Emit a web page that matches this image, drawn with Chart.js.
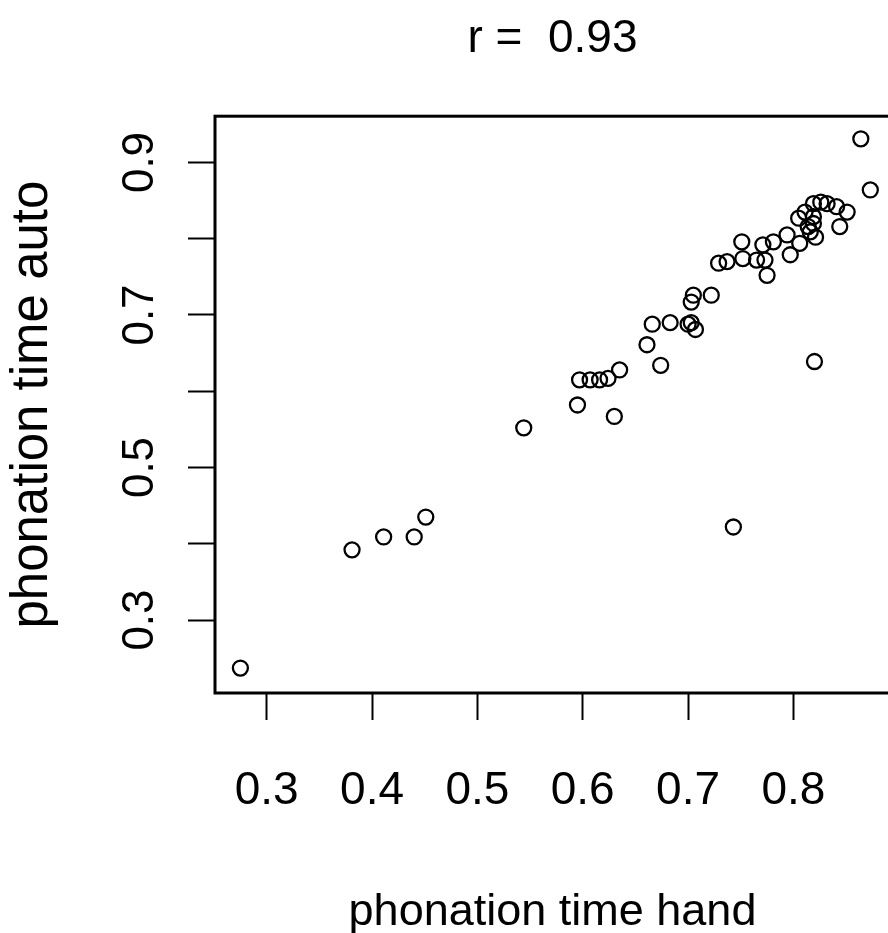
<!DOCTYPE html>
<html>
<head>
<meta charset="utf-8">
<title>phonation time</title>
<script src="https://cdn.jsdelivr.net/npm/chart.js@4.4.1/dist/chart.umd.min.js"></script>
<style>
  html, body { margin: 0; padding: 0; background: #fff; overflow: hidden; }
  #wrap { width: 888px; height: 933px; overflow: hidden; }
  canvas { display: block; }
</style>
</head>
<body>
<div id="wrap"><canvas id="chart" width="1105" height="933"></canvas></div>
<script>
/* ── data ───────────────────────────────────── */
const handTimes = [
  0.275, 0.381, 0.411, 0.440, 0.451, 0.544, 0.595, 0.630, 0.597, 0.607,
  0.616, 0.624, 0.635, 0.661, 0.674, 0.666, 0.683, 0.700, 0.707, 0.703,
  0.703, 0.705, 0.722, 0.743, 0.820, 0.864, 0.873, 0.729, 0.737, 0.751,
  0.752, 0.765, 0.771, 0.773, 0.775, 0.781, 0.794, 0.797, 0.805, 0.806,
  0.811, 0.814, 0.816, 0.819, 0.819, 0.819, 0.821, 0.826, 0.832, 0.841,
  0.851, 0.844
];
const autoTimes = [
  0.237, 0.392, 0.409, 0.409, 0.435, 0.552, 0.582, 0.567, 0.615, 0.615,
  0.615, 0.617, 0.628, 0.661, 0.634, 0.688, 0.690, 0.688, 0.681, 0.690,
  0.717, 0.726, 0.726, 0.422, 0.639, 0.931, 0.864, 0.768, 0.770, 0.796,
  0.774, 0.772, 0.792, 0.772, 0.752, 0.796, 0.805, 0.779, 0.827, 0.794,
  0.835, 0.816, 0.809, 0.846, 0.829, 0.820, 0.802, 0.848, 0.846, 0.842,
  0.835, 0.816
];

const xTicks      = [0.3, 0.4, 0.5, 0.6, 0.7, 0.8];
const xTickLabels = ['0.3', '0.4', '0.5', '0.6', '0.7', '0.8'];
const yTicks      = [0.3, 0.4, 0.5, 0.6, 0.7, 0.8, 0.9];
const yTickLabels = ['0.3', '', '0.5', '', '0.7', '', '0.9'];

const titleText  = 'r =  0.93';
const xAxisTitle = 'phonation time hand';
const yAxisTitle = 'phonation time auto';

/* ── helpers ────────────────────────────────── */
const FONT = "'Liberation Sans', Arial, sans-serif";

// R-style box around the plot region
const boxPlugin = {
  id: 'plotBox',
  afterDatasetsDraw(chart) {
    const { ctx, chartArea: a } = chart;
    ctx.save();
    ctx.strokeStyle = '#000';
    ctx.lineWidth = 3;
    ctx.strokeRect(a.left, a.top, a.right - a.left, a.bottom - a.top);
    ctx.restore();
  },
};

const points = handTimes.map((x, i) => ({ x, y: autoTimes[i] }));

new Chart(document.getElementById('chart'), {
  type: 'scatter',
  data: {
    datasets: [{
      data: points,
      pointStyle: 'circle',
      pointRadius: 7.5,
      pointBorderWidth: 2.3,
      borderColor: '#000',
      backgroundColor: 'rgba(0,0,0,0)',
    }],
  },
  options: {
    responsive: false,
    animation: false,
    devicePixelRatio: 1,
    layout: { padding: { left: 0, right: 215, top: 0, bottom: 0 } },
    plugins: {
      legend: { display: false },
      tooltip: { enabled: false },
      title: {
        display: true,
        fullSize: false,
        text: titleText,
        color: '#000',
        font: { family: FONT, size: 46, weight: 'normal' },
        padding: { top: 12, bottom: 49 },
      },
    },
    scales: {
      x: {
        type: 'linear',
        min: 0.2509,
        max: 0.8917,
        afterBuildTicks: (s) => { s.ticks = xTicks.map((v) => ({ value: v })); },
        afterFit: (s) => { s.height = 240; },
        border: { display: false },
        grid: { drawOnChartArea: false, drawTicks: true, tickLength: 27, tickWidth: 2, tickColor: '#000' },
        ticks: {
          autoSkip: false, maxRotation: 0, padding: 44, color: '#000',
          font: { family: FONT, size: 46 },
          callback: (v, i) => xTickLabels[i],
        },
        title: {
          display: true, text: xAxisTitle, color: '#000', padding: 0,
          font: { family: FONT, size: 45, lineHeight: 0.9 },
        },
      },
      y: {
        type: 'linear',
        min: 0.2043,
        max: 0.9607,
        afterBuildTicks: (s) => { s.ticks = yTicks.map((v) => ({ value: v })); },
        afterFit: (s) => { s.width = 215; },
        border: { display: false },
        grid: { drawOnChartArea: false, drawTicks: true, tickLength: 27, tickWidth: 2, tickColor: '#000' },
        ticks: {
          autoSkip: false, minRotation: 90, maxRotation: 90, crossAlign: 'center',
          padding: 17, color: '#000',
          font: { family: FONT, size: 44 },
          callback: (v, i) => yTickLabels[i],
        },
        title: {
          display: true, text: yAxisTitle, color: '#000', padding: { top: 2, bottom: 0 },
          font: { family: FONT, size: 51 },
        },
      },
    },
  },
  plugins: [boxPlugin],
});
</script>
</body>
</html>
